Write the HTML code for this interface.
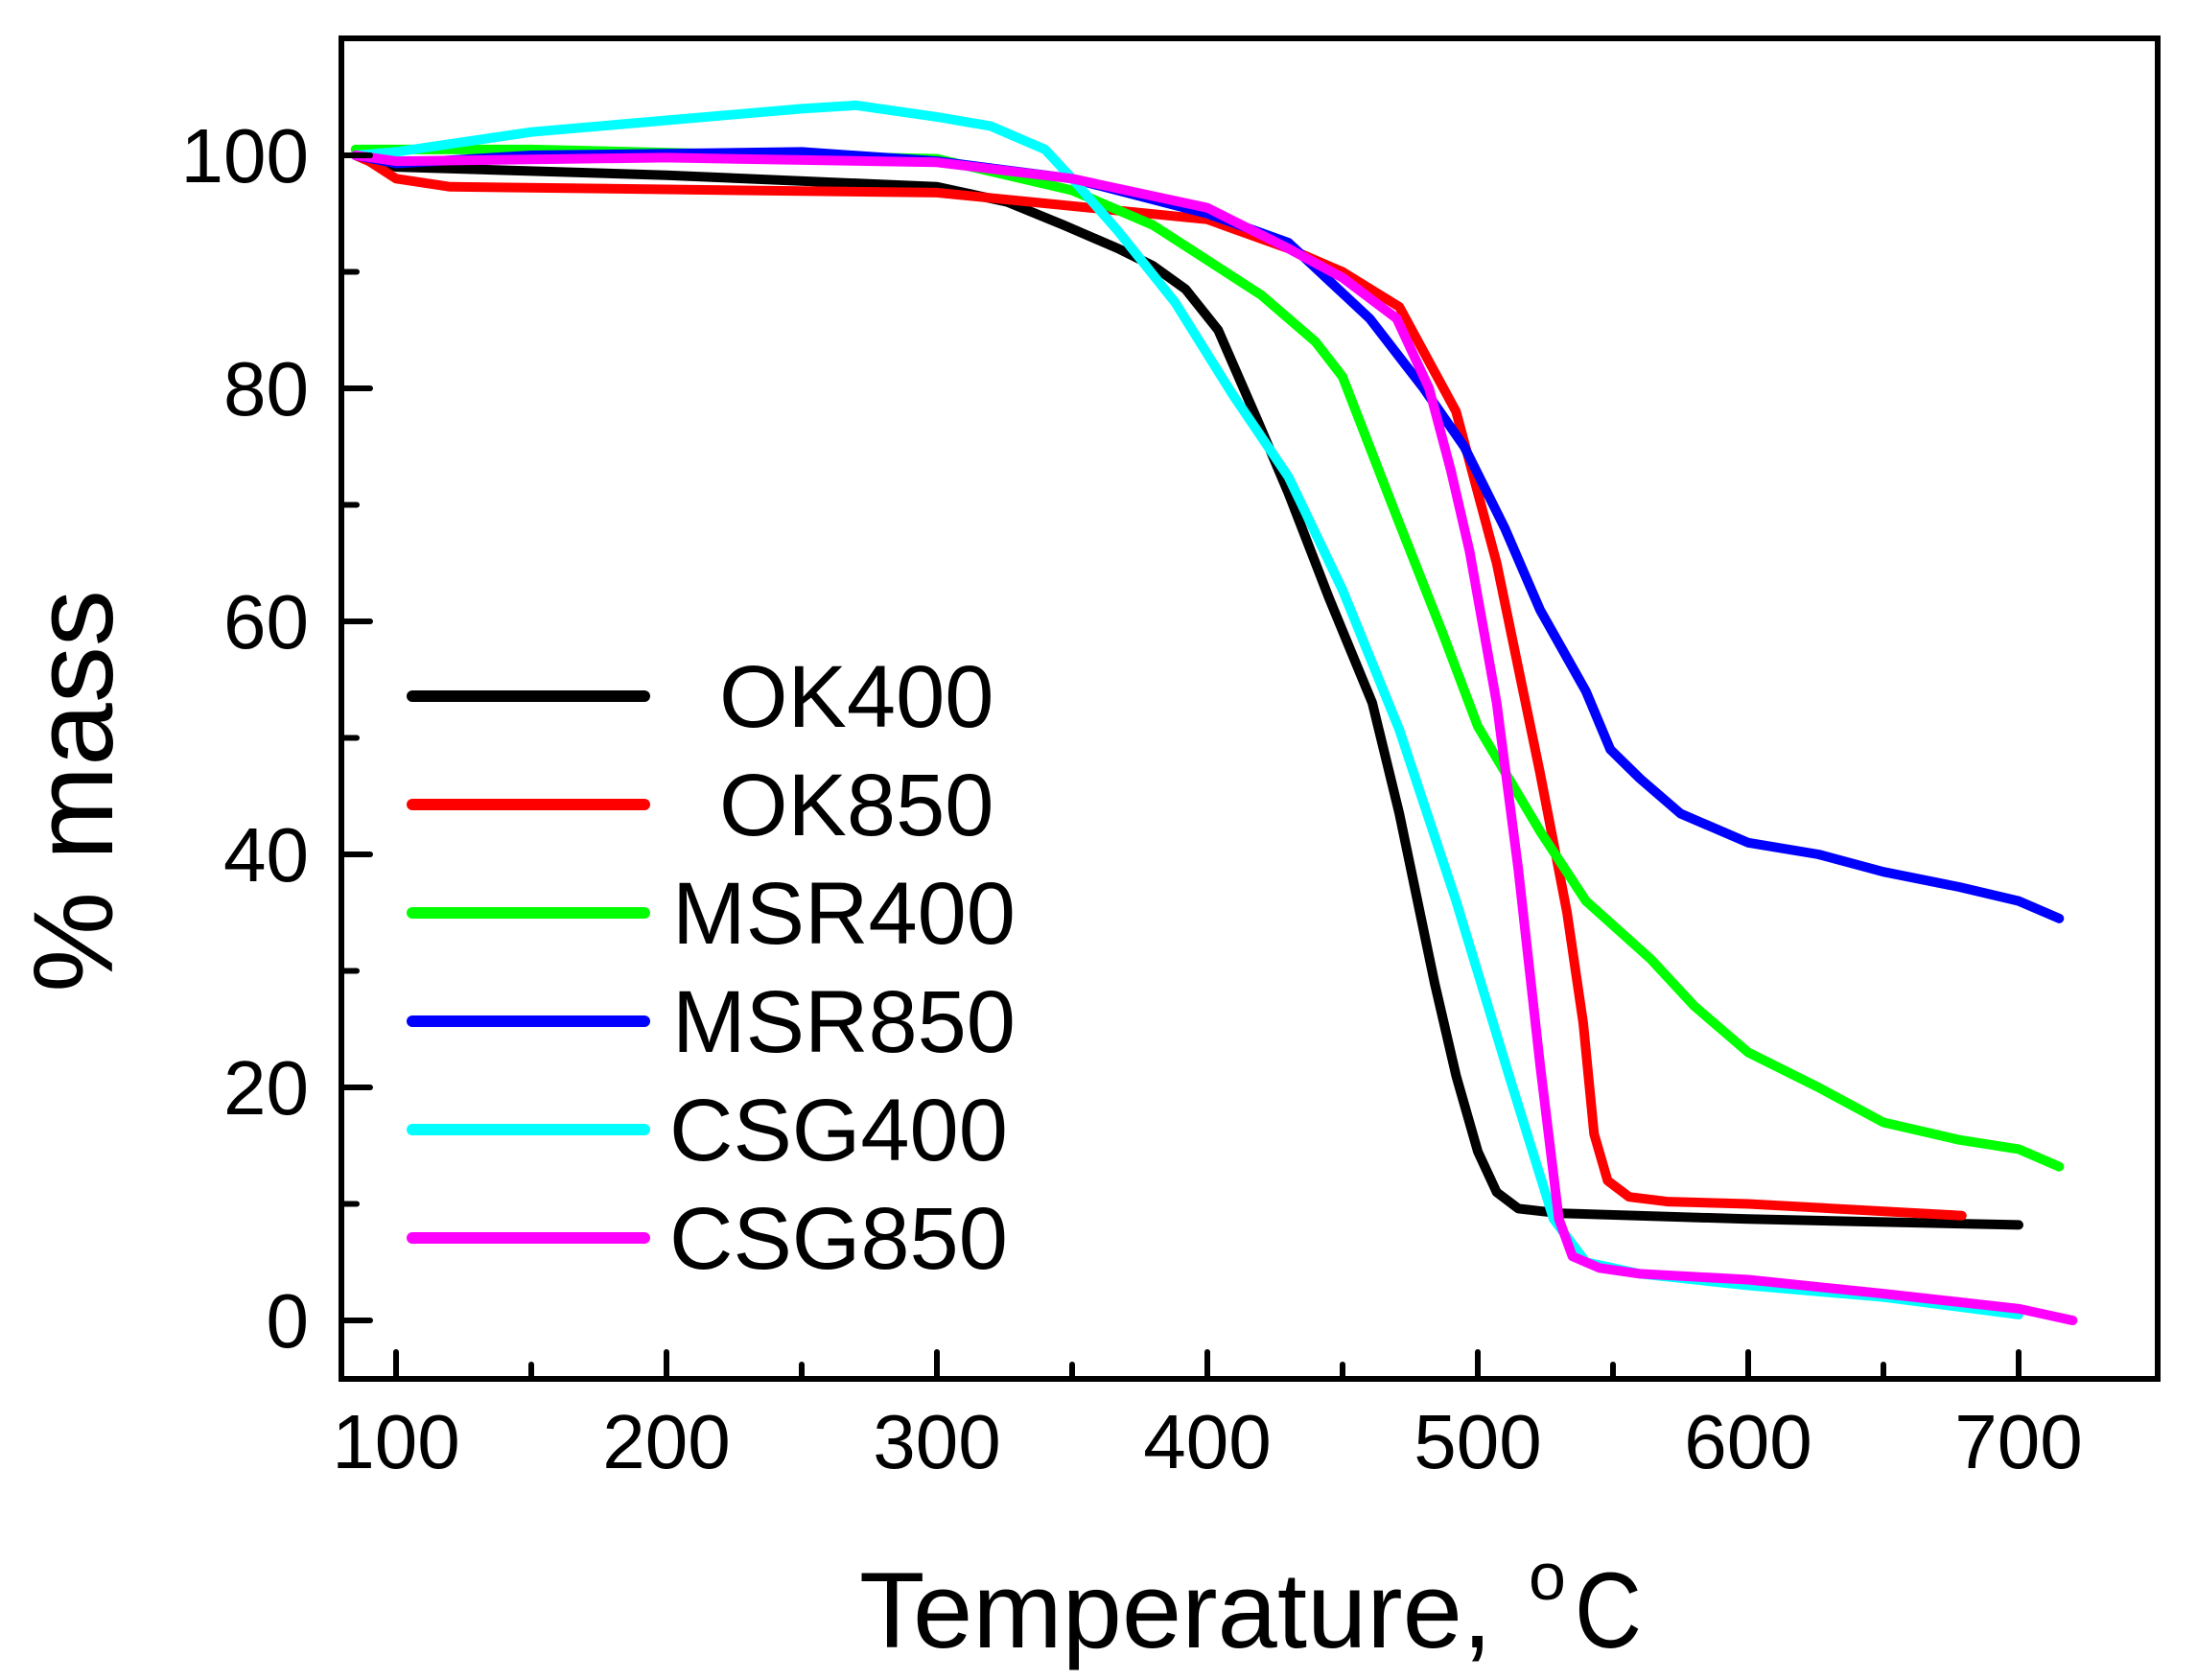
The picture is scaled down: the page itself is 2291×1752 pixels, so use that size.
<!DOCTYPE html>
<html><head><meta charset="utf-8"><style>
html,body{margin:0;padding:0;background:#fff;}
svg{display:block;}
text{font-family:"Liberation Sans",Arial,sans-serif;fill:#000;}
</style></head><body>
<svg id="s" width="2291" height="1752" viewBox="0 0 2291 1752" xmlns="http://www.w3.org/2000/svg">
<g id="data" fill="none" stroke-linejoin="round" stroke-linecap="round" stroke-width="10"></g>
<rect x="356" y="40" width="1894" height="1398" fill="none" stroke="#000" stroke-width="6"/>
<g id="ticks" stroke="#000" stroke-width="6" stroke-linecap="round"></g>
<g id="labels" font-size="80"></g>
<g font-size="92">
<line x1="430" y1="726" x2="672" y2="726" stroke="#000" stroke-width="12" stroke-linecap="round"/>
<line x1="430" y1="839" x2="672" y2="839" stroke="#f00" stroke-width="12" stroke-linecap="round"/>
<line x1="430" y1="952" x2="672" y2="952" stroke="#0f0" stroke-width="12" stroke-linecap="round"/>
<line x1="430" y1="1065" x2="672" y2="1065" stroke="#00f" stroke-width="12" stroke-linecap="round"/>
<line x1="430" y1="1178" x2="672" y2="1178" stroke="#0ff" stroke-width="12" stroke-linecap="round"/>
<line x1="430" y1="1291" x2="672" y2="1291" stroke="#f0f" stroke-width="12" stroke-linecap="round"/>
<text x="750" y="758">OK400</text>
<text x="750" y="871">OK850</text>
<text x="701" y="984">MSR400</text>
<text x="701" y="1097">MSR850</text>
<text x="698" y="1210">CSG400</text>
<text x="698" y="1323">CSG850</text>
</g>
<text x="896" y="1718" font-size="112" textLength="660" lengthAdjust="spacingAndGlyphs">Temperature,</text>
<text x="1594" y="1668" font-size="70">o</text>
<text x="1642" y="1718" font-size="112" textLength="70" lengthAdjust="spacingAndGlyphs">C</text>
<text transform="translate(117,825) rotate(-90)" text-anchor="middle" font-size="118">% mass</text>
</svg>
<script>
var X=function(t){return 413+(t-100)*2.82;}, Y=function(m){return 1377-m*12.15;};
var series={
"#000":[[85,100],[100,99],[200,98.3],[300,97.3],[326,96],[347,94],[367,92],[380,90.5],[392,88.5],[404,85],[419,77],[430,71],[445,62],[461,53],[471,43.5],[484,29],[492,21],[500,14.5],[507,11],[515,9.6],[530,9.2],[600,8.7],[700,8.2]],
"#f00":[[85,100],[90,99.5],[100,98],[120,97.3],[300,96.8],[400,94.5],[430,92],[450,90],[471,87],[485,81],[492,78],[507,65],[515,56],[523,47],[533,35],[539,25.5],[543,16],[548,12],[556,10.6],[570,10.2],[600,10],[679,9]],
"#0f0":[[85,100.5],[150,100.5],[300,99.7],[350,97],[380,94],[400,91],[420,88],[440,84],[450,81],[460,75],[470,69],[487,59],[500,51],[523,42],[540,36],[564,31],[580,27],[600,23],[626,20],[650,17],[678,15.5],[700,14.7],[715,13.2]],
"#00f":[[85,100],[100,99.3],[150,100],[250,100.3],[300,99.5],[350,98],[400,95],[430,92.5],[460,86],[480,80],[495,75],[510,68],[523,61],[540,54],[549,49],[560,46.5],[575,43.5],[600,41],[626,40],[650,38.5],[678,37.2],[700,36],[715,34.5]],
"#0ff":[[85,100],[100,100.3],[150,102],[200,103],[250,104],[270,104.3],[300,103.3],[320,102.5],[340,100.5],[350,98],[367,93.5],[388,87.4],[409,79.6],[430,72.4],[450,62.7],[471,50.7],[492,36],[512,20.7],[528,8.7],[540,5],[560,4],[600,3],[650,2],[700,0.5]],
"#f0f":[[85,100],[100,99.5],[200,99.8],[300,99.4],[350,98],[400,95.5],[430,92],[450,89.5],[470,86],[482,80],[490,73],[497,66],[507,53],[515,38.7],[523,22],[530,8.7],[535,5.5],[545,4.5],[560,4],[600,3.5],[650,2.3],[700,1],[720,0]]
};
var ns="http://www.w3.org/2000/svg",g=document.getElementById("data");
for(var c in series){var p=document.createElementNS(ns,"polyline");
p.setAttribute("points",series[c].map(function(a){return X(a[0]).toFixed(1)+","+Y(a[1]).toFixed(1)}).join(" "));
p.setAttribute("stroke",c);g.appendChild(p);}
var tk=document.getElementById("ticks"),lb=document.getElementById("labels");
function ln(a,b,c,d){var l=document.createElementNS(ns,"line");l.setAttribute("x1",a);l.setAttribute("y1",b);l.setAttribute("x2",c);l.setAttribute("y2",d);tk.appendChild(l);}
function tx(x,y,s,anc){var t=document.createElementNS(ns,"text");t.setAttribute("x",x);t.setAttribute("y",y);t.setAttribute("text-anchor",anc);t.textContent=s;lb.appendChild(t);}
for(var t=100;t<=700;t+=50){var x=X(t),maj=t%100==0;ln(x,1438,x,1438-(maj?28:15));if(maj)tx(x,1531,String(t),"middle");}
for(var m=0;m<=100;m+=10){var y=Y(m),maj=m%20==0;ln(356,y,356+(maj?30:16),y);if(maj)tx(322,y+28,String(m),"end");}
</script>
</body></html>
